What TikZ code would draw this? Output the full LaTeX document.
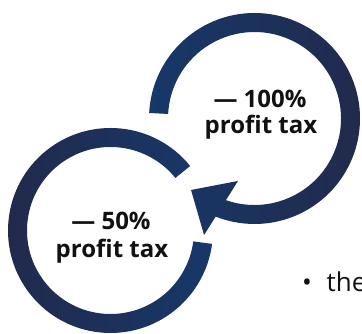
\documentclass[tikz,border=0pt]{standalone}
\usepackage{fontspec}
\setmainfont{Open Sans}
\definecolor{ringblue}{HTML}{17386A}
\definecolor{ringnavy}{HTML}{212A4C}
\definecolor{txt}{HTML}{111111}
\begin{document}
\begin{tikzpicture}[x=1pt,y=1pt,
  lbl/.style={font=\fontsize{24}{28}\selectfont\bfseries, text=txt, inner sep=0pt, anchor=base},
  bul/.style={font=\fontsize{26}{30}\selectfont, text=txt, inner sep=0pt}]
\useasboundingbox (0,0) rectangle (362,334);
% upper ring (clockwise arrow)
\coordinate (uc) at (254.5,215.5);
\begin{scope}
  \clip ([shift={(177:105.5)}]uc) arc[start angle=177, end angle=-115, radius=105.5]
     -- ([shift={(-115:86.5)}]uc) arc[start angle=-115, end angle=177, radius=86.5] -- cycle;
  \shade[left color=ringblue, right color=ringnavy] (148,90) rectangle (361,324);
\end{scope}
\begin{scope}
  \clip ([shift={(-104.8:64.6)}]uc) -- ([shift={(-113.4:127)}]uc) -- ([shift={(-131.6:95.6)}]uc) -- cycle;
  \shade[left color=ringblue, right color=ringnavy] (148,90) rectangle (361,324);
\end{scope}
% lower ring
\coordinate (lc) at (110.5,103.5);
\begin{scope}
  \clip ([shift={(39:102.5)}]lc) arc[start angle=39, end angle=352.5, radius=102.5]
     -- ([shift={(352.5:83.5)}]lc) arc[start angle=352.5, end angle=39, radius=83.5] -- cycle;
  \shade[left color=ringnavy, right color=ringblue] (7,0) rectangle (214,207);
\end{scope}
% labels
\node[lbl] (u1) at (260,226.7) {— 100\%};
\node[lbl] (u2) at (261,200) {profit tax};
\node[lbl] (l1) at (111,104) {— 50\%};
\node[lbl] (l2) at (112,76) {profit tax};
% bullet text (cut at the right edge, as in the reference)
\node[bul, anchor=base] (b) at (307,42) {•};
\node[bul, anchor=base west] (the) at (326.5,42) {the};
\end{tikzpicture}
\end{document}
